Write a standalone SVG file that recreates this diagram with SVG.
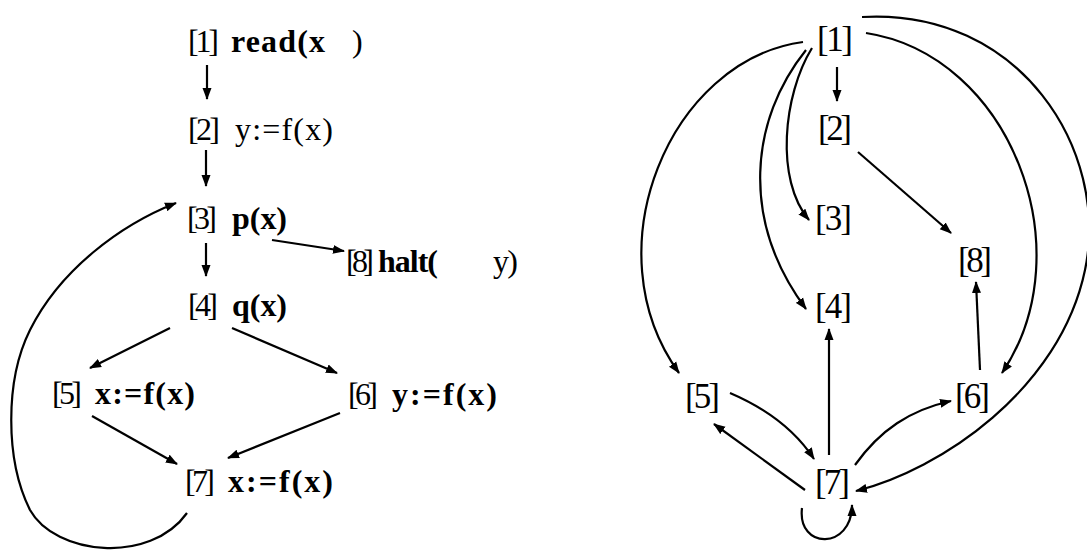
<svg xmlns="http://www.w3.org/2000/svg" width="1087" height="552" viewBox="0 0 1087 552">
<defs>
<marker id="ah" markerUnits="userSpaceOnUse" markerWidth="12" markerHeight="10" refX="11" refY="5" orient="auto">
<path d="M0,0.5 L12,5 L0,9.5 z" fill="#000"/>
</marker>
<style>
.e{fill:none;stroke:#000;stroke-width:2.2;marker-end:url(#ah)}
.t{font-family:"Liberation Serif","DejaVu Serif",serif;font-size:32px;fill:#000}
.b{font-weight:bold}
.r{font-family:"Liberation Serif","DejaVu Serif",serif;font-size:35px;fill:#000}
</style>
</defs>
<rect width="1087" height="552" fill="#fff"/>
<g id="connectors">
<path class="e" d="M207,65 L207,99"/>
<path class="e" d="M206,150 L206,186"/>
<path class="e" d="M206,243 L206,276"/>
<path class="e" d="M272,240 L344,251"/>
<path class="e" d="M170,328 L90,368"/>
<path class="e" d="M232,328 L337,373"/>
<path class="e" d="M92,416 L177,464"/>
<path class="e" d="M340,413 L228,458"/>
<path class="e" d="M187,513 C150,565 55,555 30,510 C5,460 5,380 30,330 C60,270 120,225 176,203"/>
<path class="e" d="M837,67 L837,101"/>
<path class="e" d="M812,48 C783,95 775,180 809,220"/>
<path class="e" d="M806,50 C750,120 740,220 806,309"/>
<path class="e" d="M803,42 C670,60 590,250 679,373"/>
<path class="e" d="M866,33 C1010,55 1085,250 1002,373"/>
<path class="e" d="M862,17 C1020,8 1110,150 1085,270 C1060,390 940,470 856,491"/>
<path class="e" d="M858,152 L951,233"/>
<path class="e" d="M980,370 L976,282"/>
<path class="e" d="M829,455 L829,329"/>
<path class="e" d="M730,393 C765,408 795,430 814,459"/>
<path class="e" d="M805,490 L714,424"/>
<path class="e" d="M855,465 C880,430 910,410 951,401"/>
<path class="e" d="M802,508 C797,550 852,550 852,505"/>
</g>
<g id="L1"><text class="t" y="52"><tspan x="188" textLength="31">[1]</tspan><tspan class="b" x="231" textLength="94">read(x</tspan><tspan x="352">)</tspan></text></g>
<g id="L2"><text class="t" y="140"><tspan x="188" textLength="32">[2]</tspan><tspan x="235" textLength="98">y:=f(x)</tspan></text></g>
<g id="L3"><text class="t" y="229"><tspan x="187" textLength="30">[3]</tspan><tspan class="b" x="232" textLength="55">p(x)</tspan></text></g>
<g id="L8"><text class="t" y="272"><tspan x="346" textLength="28">[8]</tspan><tspan class="b" x="378" textLength="60">halt(</tspan><tspan x="493" textLength="25">y)</tspan></text></g>
<g id="L4"><text class="t" y="316"><tspan x="188" textLength="30">[4]</tspan><tspan class="b" x="232" textLength="55">q(x)</tspan></text></g>
<g id="L5"><text class="t" y="404"><tspan x="52" textLength="30">[5]</tspan><tspan class="b" x="95" textLength="100">x:=f(x)</tspan></text></g>
<g id="L6"><text class="t" y="405"><tspan x="348" textLength="30">[6]</tspan><tspan class="b" x="392" textLength="105">y:=f(x)</tspan></text></g>
<g id="L7"><text class="t" y="492"><tspan x="185" textLength="30">[7]</tspan><tspan class="b" x="228" textLength="105">x:=f(x)</tspan></text></g>
<g id="R1"><text class="r" x="817" y="51" textLength="36">[1]</text></g>
<g id="R2"><text class="r" x="818" y="140" textLength="34">[2]</text></g>
<g id="R3"><text class="r" x="815" y="230" textLength="37">[3]</text></g>
<g id="R8"><text class="r" x="958" y="272" textLength="34">[8]</text></g>
<g id="R4"><text class="r" x="815" y="318" textLength="37">[4]</text></g>
<g id="R5"><text class="r" x="685" y="408" textLength="35">[5]</text></g>
<g id="R6"><text class="r" x="955" y="408" textLength="35">[6]</text></g>
<g id="R7"><text class="r" x="815" y="494" textLength="35">[7]</text></g>
</svg>
